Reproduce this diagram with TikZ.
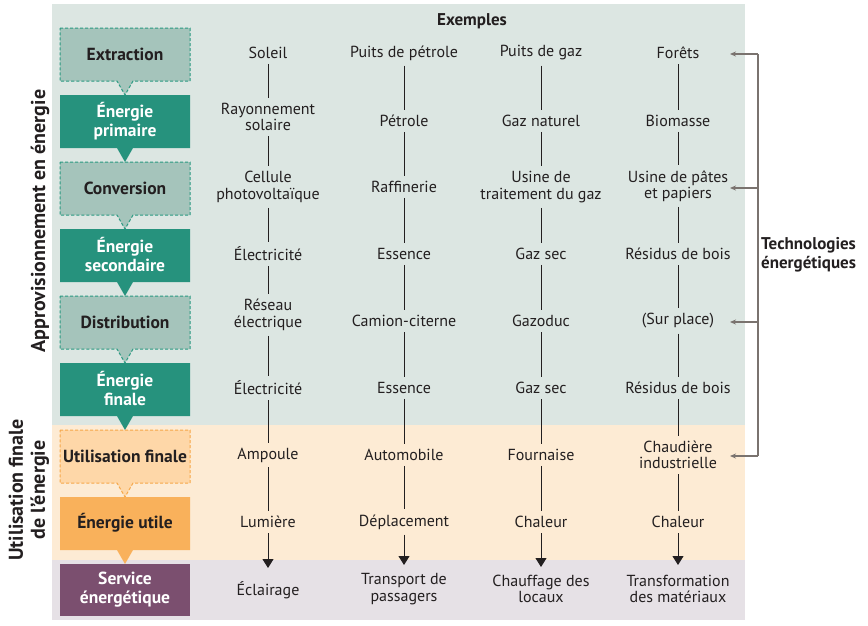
\documentclass[tikz,border=0pt]{standalone}
\usepackage{fontspec}
\setmainfont{PT Sans}
\usetikzlibrary{arrows.meta}
\definecolor{bggreen}{HTML}{DCE6E2}
\definecolor{bgorange}{HTML}{FDEBD4}
\definecolor{bgpurple}{HTML}{E6E1E6}
\definecolor{dashfill}{HTML}{A5C4BB}
\definecolor{teal}{HTML}{26927D}
\definecolor{tealline}{HTML}{2A9A82}
\definecolor{ufill}{HTML}{FED7A8}
\definecolor{uline}{HTML}{F6A748}
\definecolor{utile}{HTML}{F9B15B}
\definecolor{serv}{HTML}{7B4F6F}
\definecolor{greyc}{HTML}{7A736F}
\definecolor{ink}{HTML}{231F20}
\newcommand\ptrbox[2]{\path[#2] (60,#1) -- (190,#1) -- (190,#1+53) -- (133,#1+53) -- (125,#1+67) -- (117,#1+53) -- (60,#1+53) -- cycle;}
\tikzset{
  txt/.style={font=\fontsize{16}{16.5}\selectfont, align=center, inner sep=0pt, text=ink},
  boxtxt/.style={font=\bfseries\fontsize{17.5}{19}\selectfont, align=center, inner sep=0pt},
  dashbox/.style={fill=dashfill, draw=tealline, line width=1pt, dash pattern=on 3pt off 2pt},
  solidbox/.style={fill=teal},
  ubox/.style={fill=ufill, draw=uline, line width=1pt, dash pattern=on 3pt off 2pt},
  utbox/.style={fill=utile},
  link/.style={draw=ink, line width=1pt, shorten <=5pt, shorten >=5pt},
  arrlink/.style={draw=ink, line width=1pt, shorten <=5pt, -{Triangle[length=9pt,width=11pt]}},
  tech/.style={draw=greyc, line width=1.2pt, -{Stealth[length=6pt,width=5pt]}},
  side/.style={font=\bfseries\fontsize{20}{22}\selectfont, align=center, inner sep=0pt, rotate=90, text=ink}
}
\begin{document}
\begin{tikzpicture}[x=1pt,y=-1pt]
\useasboundingbox (0,0) rectangle (868,625);
% bands
\fill[bggreen] (52,4) rectangle (745,425);
\fill[bgorange] (52,425) rectangle (745,560);
\fill[bgpurple] (52,560) rectangle (745,620);
% left flow boxes
\ptrbox{28}{dashbox}
\ptrbox{95}{solidbox}
\ptrbox{162}{dashbox}
\ptrbox{229}{solidbox}
\ptrbox{296}{dashbox}
\ptrbox{363}{solidbox}
\ptrbox{430}{ubox}
\ptrbox{497}{utbox}
\fill[serv] (60,564) rectangle (190,616);
\node[boxtxt, text=ink] (extr) at (125,54) {Extraction};
\node[boxtxt, text=white] (prim) at (125,121) {Énergie\\primaire};
\node[boxtxt, text=ink] (conv) at (125,188) {Conversion};
\node[boxtxt, text=white] (seco) at (125,255) {Énergie\\secondaire};
\node[boxtxt, text=ink] (dist) at (125,322) {Distribution};
\node[boxtxt, text=white] (fina) at (125,389) {Énergie\\finale};
\node[boxtxt, text=ink] (util) at (125,456) {Utilisation finale};
\node[boxtxt, text=ink] (uti2) at (125,523) {Énergie utile};
\node[boxtxt, text=white] (serv) at (125,590) {Service\\énergétique};
% side labels
\node[side] (appro) at (40,221) {Approvisionnement en énergie};
\node[side] (ufin) at (29,490) {Utilisation finale\\de l’énergie};
% header
\node[txt, font=\bfseries\fontsize{17}{18}\selectfont] (exemples) at (472,21) {Exemples};
% column 1
\node[txt] (c1-1) at (268,53) {Soleil};
\node[txt] (c1-2) at (268,117) {Rayonnement\\solaire};
\node[txt] (c1-3) at (268,187) {Cellule\\photovoltaïque};
\node[txt] (c1-4) at (268,254) {Électricité};
\node[txt] (c1-5) at (268,315) {Réseau\\électrique};
\node[txt] (c1-6) at (268,388) {Électricité};
\node[txt] (c1-7) at (268,455) {Ampoule};
\node[txt] (c1-8) at (268,522) {Lumière};
\node[txt] (c1-9) at (268,590) {Éclairage};
% column 2
\node[txt] (c2-1) at (404,53) {Puits de pétrole};
\node[txt] (c2-2) at (404,121) {Pétrole};
\node[txt] (c2-3) at (404,187) {Raffinerie};
\node[txt] (c2-4) at (404,254) {Essence};
\node[txt] (c2-5) at (404,321) {Camion-citerne};
\node[txt] (c2-6) at (404,388) {Essence};
\node[txt] (c2-7) at (404,455) {Automobile};
\node[txt] (c2-8) at (404,522) {Déplacement};
\node[txt] (c2-9) at (404,589) {Transport de\\passagers};
% column 3
\node[txt] (c3-1) at (541,53) {Puits de gaz};
\node[txt] (c3-2) at (541,121) {Gaz naturel};
\node[txt] (c3-3) at (541,187) {Usine de\\traitement du gaz};
\node[txt] (c3-4) at (541,254) {Gaz sec};
\node[txt] (c3-5) at (541,321) {Gazoduc};
\node[txt] (c3-6) at (541,388) {Gaz sec};
\node[txt] (c3-7) at (541,455) {Fournaise};
\node[txt] (c3-8) at (541,522) {Chaleur};
\node[txt] (c3-9) at (541,589) {Chauffage des\\locaux};
% column 4
\node[txt] (c4-1) at (678,53) {Forêts};
\node[txt] (c4-2) at (678,121) {Biomasse};
\node[txt] (c4-3) at (678,186) {Usine de pâtes\\et papiers};
\node[txt] (c4-4) at (678,254) {Résidus de bois};
\node[txt] (c4-5) at (678,321) {(Sur place)};
\node[txt] (c4-6) at (678,388) {Résidus de bois};
\node[txt] (c4-7) at (678,455) {Chaudière\\industrielle};
\node[txt] (c4-8) at (678,522) {Chaleur};
\node[txt] (c4-9) at (678,589) {Transformation\\des matériaux};
% arrow end points at the service band
\coordinate (t1) at (268,568);
\coordinate (t2) at (404,565);
\coordinate (t3) at (541,567);
\coordinate (t4) at (678,565);
\foreach \c in {1,2,3,4}{
  \foreach \r [evaluate=\r as \n using int(\r+1)] in {1,...,7}{
    \draw[link] (c\c-\r) -- (c\c-\n);
  }
  \draw[arrlink] (c\c-8) -- (t\c);
}
% technologies bracket
\coordinate (b1) at (758,54);
\coordinate (b2) at (758,188);
\coordinate (b3) at (758,322);
\coordinate (b4) at (758,456);
\coordinate (a1) at (730,54);
\coordinate (a2) at (730,188);
\coordinate (a3) at (730,322);
\coordinate (a4) at (730,456);
\draw[greyc, line width=1.2pt] (b1) -- (b4);
\draw[tech] (b1) -- (a1);
\draw[tech] (b2) -- (a2);
\draw[tech] (b3) -- (a3);
\draw[tech] (b4) -- (a4);
\node[txt, anchor=west, align=left, font=\bfseries\fontsize{17}{19}\selectfont] (techno) at (761,255) {Technologies\\énergétiques};
\end{tikzpicture}
\end{document}
